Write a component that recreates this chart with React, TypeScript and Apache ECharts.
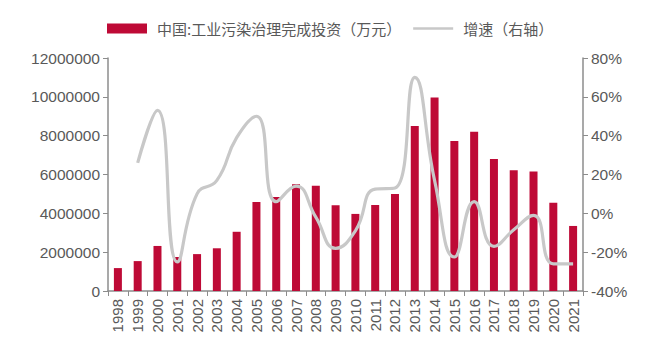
import React, { useEffect, useRef } from "react";
import * as echarts from "echarts";

const years = ["1998","1999","2000","2001","2002","2003","2004","2005","2006","2007","2008","2009","2010","2011","2012","2013","2014","2015","2016","2017","2018","2019","2020","2021"];
const investment = [1180000,1540000,2320000,1750000,1900000,2200000,3050000,4580000,4840000,5500000,5420000,4420000,3970000,4430000,5000000,8500000,9970000,7730000,8200000,6800000,6220000,6150000,4540000,3350000];
const growth = [null,26,53,-25,10,17,39,50,6,14,-2,-18,-9,12.5,13,70,17,-22.5,6,-17,-8.5,-1,-26,-26];
const leftTicks = [0,2000000,4000000,6000000,8000000,10000000,12000000];
const rightTicks = [-40,-20,0,20,40,60,80];

const barName = "中国:工业污染治理完成投资（万元）";
const lineName = "增速（右轴）";

export default function App() {
  const ref = useRef<HTMLDivElement>(null);
  useEffect(() => {
    const chart = echarts.init(ref.current!, null, { renderer: "svg" });
    const axisColor = "#8c8c8c";
    const labelColor = "#595959";
    const font = "'Liberation Sans', Arial, sans-serif";
    chart.setOption({
      animation: false,
      backgroundColor: "#ffffff",
      legend: {
        top: 16,
        left: 102,
        itemWidth: 40,
        itemHeight: 10,
        itemGap: 12,
        textStyle: { color: labelColor, fontSize: 15, fontFamily: "'Noto Sans CJK SC', sans-serif", padding: [0, 0, 0, 5] },
        data: [
          { name: barName, icon: "rect" },
          { name: lineName, icon: "path://M0,0 L40,0 L40,2.5 L0,2.5 Z", itemStyle: { color: "#C8C8C8" } },
        ],
      },
      grid: { left: 108, right: 71, top: 58, bottom: 60 },
      xAxis: {
        type: "category",
        data: years,
        axisLine: { lineStyle: { color: axisColor, width: 1.5 } },
        axisTick: { show: true, length: 5, lineStyle: { color: axisColor } },
        axisLabel: { rotate: 90, color: labelColor, fontSize: 15, fontFamily: font, margin: 8 },
      },
      yAxis: [
        {
          type: "value",
          min: leftTicks[0],
          max: leftTicks[leftTicks.length - 1],
          interval: 2000000,
          splitLine: { show: false },
          axisLine: { show: true, lineStyle: { color: axisColor, width: 1.5 } },
          axisTick: { show: true, length: 5, lineStyle: { color: axisColor } },
          axisLabel: { color: labelColor, fontSize: 15.5, fontFamily: font, margin: 8, formatter: (v: number) => String(v) },
        },
        {
          type: "value",
          min: rightTicks[0],
          max: rightTicks[rightTicks.length - 1],
          interval: 20,
          splitLine: { show: false },
          axisLine: { show: true, lineStyle: { color: axisColor, width: 1.5 } },
          axisTick: { show: true, length: 5, lineStyle: { color: axisColor } },
          axisLabel: { color: labelColor, fontSize: 15.5, fontFamily: font, margin: 8, formatter: "{value}%" },
        },
      ],
      series: [
        {
          name: barName,
          type: "bar",
          data: investment,
          barWidth: 8,
          itemStyle: { color: "#BE0A36" },
        },
        {
          name: lineName,
          type: "line",
          yAxisIndex: 1,
          data: growth,
          smooth: 0.5,
          symbol: "none",
          lineStyle: { color: "#C8C8C8", width: 3.2 },
          itemStyle: { color: "#C8C8C8" },
        },
      ],
    });
    return () => chart.dispose();
  }, []);
  return <div ref={ref} style={{ width: 654, height: 351, position: "absolute", left: 0, top: 0 }} />;
}
